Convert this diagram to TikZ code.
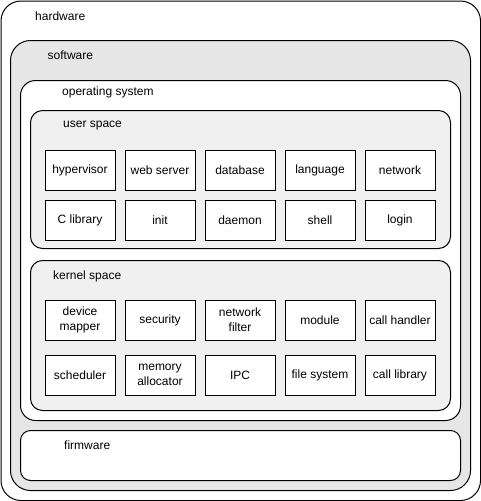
\documentclass[tikz,border=0pt]{standalone}
\usepackage{fontspec}
\setmainfont{Liberation Sans}
\usetikzlibrary{positioning}
\definecolor{swgray}{HTML}{E6E6E6}
\definecolor{spacegray}{HTML}{F0F0F0}
\tikzset{
    layer/.style={draw, line width=1pt, rectangle, anchor=north west, inner sep=0pt},
    part/.style={draw, line width=1pt, rectangle, fill=white, minimum height=40pt, minimum width=70pt, inner sep=1pt, align=center},
    title/.style={anchor=west, inner sep=0pt}
}

\begin{document}
\begin{tikzpicture}[x=1pt, y=-1pt, font=\fontsize{12}{15}\selectfont]
    \useasboundingbox (0,0) rectangle (481,501);
    % nested layers
    \node[layer, rounded corners=20pt, fill=white, minimum width=479.5pt, minimum height=499.5pt] (hw) at (0.5,0.5) {};
    \node[layer, rounded corners=20pt, fill=swgray, minimum width=460pt, minimum height=450pt] (sw) at (10,40) {};
    \node[layer, rounded corners=15pt, fill=white, minimum width=440pt, minimum height=340pt] (os) at (20,80) {};
    \node[layer, rounded corners=12pt, fill=spacegray, minimum width=420pt, minimum height=138pt] (user) at (30,110) {};
    \node[layer, rounded corners=12pt, fill=spacegray, minimum width=420pt, minimum height=150pt] (kernel) at (30,260) {};
    \node[layer, rounded corners=10pt, fill=white, minimum width=440pt, minimum height=50pt] (fw) at (20,430) {};

    \node[title] (hwlabel) at (35,16) {hardware};
    \node[title] (swlabel) at (47.5,55.5) {software};
    \node[title] (oslabel) at (62,92) {operating system};
    \node[title] (userlabel) at (63,126) {user space};
    \node[title] (kernellabel) at (53,276) {kernel space};
    \node[title] (fwlabel) at (64,445) {firmware};

    % user space
    \node[part] (hypervisor) at (80,170.5) {hypervisor};
    \node[part] (webserver) at (160,170.5) {web server};
    \node[part] (database) at (240,170.5) {database};
    \node[part] (language) at (320,170.5) {language};
    \node[part] (network) at (400,170.5) {network};
    \node[part] (clib) at (80,220.5) {C library};
    \node[part] (init) at (160,220.5) {init};
    \node[part] (daemon) at (240,220.5) {daemon};
    \node[part] (shell) at (320,220.5) {shell};
    \node[part] (login) at (400,220.5) {login};

    % kernel space
    \node[part] (mapper) at (80,320) {device\\mapper};
    \node[part] (security) at (160,320.5) {security};
    \node[part] (netfilter) at (240,320) {network\\filter};
    \node[part] (module) at (320,320.5) {module};
    \node[part] (callhandler) at (400,320.5) {call handler};
    \node[part] (scheduler) at (80,375.5) {scheduler};
    \node[part] (memalloc) at (160,375) {memory\\allocator};
    \node[part] (ipc) at (240,375.5) {IPC};
    \node[part] (filesystem) at (320,375.5) {file system};
    \node[part] (calllib) at (400,375.5) {call library};
\end{tikzpicture}
\end{document}
